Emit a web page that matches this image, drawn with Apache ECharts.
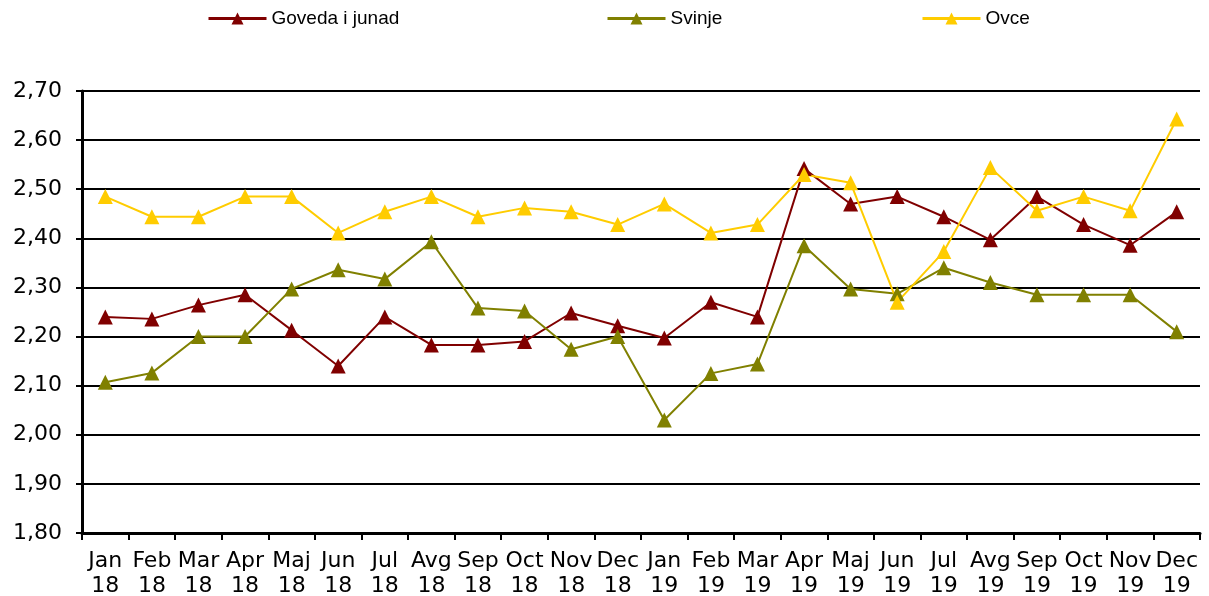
<!DOCTYPE html>
<html><head><meta charset="utf-8">
<script src="https://cdn.jsdelivr.net/npm/echarts@6/dist/echarts.min.js"></script>
<style>html,body{margin:0;padding:0;background:#fff}#c{width:1209px;height:596px}</style>
</head><body><div id="c"></div>
<script>
const categories = ['Jan\n18','Feb\n18','Mar\n18','Apr\n18','Maj\n18','Jun\n18','Jul\n18','Avg\n18','Sep\n18','Oct\n18','Nov\n18','Dec\n18',
  'Jan\n19','Feb\n19','Mar\n19','Apr\n19','Maj\n19','Jun\n19','Jul\n19','Avg\n19','Sep\n19','Oct\n19','Nov\n19','Dec\n19'];
const goveda = [2.24,2.236,2.264,2.285,2.213,2.14,2.24,2.183,2.183,2.19,2.248,2.222,2.197,2.27,2.24,2.542,2.47,2.485,2.444,2.397,2.485,2.428,2.386,2.454];
const svinje = [2.107,2.126,2.20,2.20,2.297,2.336,2.317,2.393,2.258,2.252,2.174,2.20,2.03,2.125,2.144,2.385,2.297,2.287,2.34,2.31,2.285,2.285,2.285,2.21];
const ovce = [2.485,2.444,2.444,2.485,2.485,2.411,2.454,2.485,2.444,2.462,2.454,2.428,2.47,2.411,2.428,2.53,2.513,2.27,2.373,2.544,2.456,2.485,2.456,2.643];
const names = ['Goveda i junad','Svinje','Ovce'];
const colors = ['#800000','#808000','#FFCC00'];

const chart = echarts.init(document.getElementById('c'));
const legendBase = {top: 4, itemWidth: 58, itemHeight: 15, itemGap: 0,
  lineStyle:{width:3},
  textStyle: {fontFamily: 'Liberation Sans', fontSize: 19, color: '#000'}};
function mkSeries(name, data, color){
  return {name, type:'line', data, symbol:'triangle', symbolSize:15, color,
    lineStyle:{width:2, color}, itemStyle:{color}, animation:false};
}
chart.setOption({
  animation:false,
  legend:[
    Object.assign({data:[names[0]], left:202}, legendBase),
    Object.assign({data:[names[1]], left:601}, legendBase),
    Object.assign({data:[names[2]], left:916}, legendBase)
  ],
  grid:{left:82, right:9, top:91, bottom:63, containLabel:false, outerBoundsMode:'none'},
  xAxis:{type:'category', data:categories, boundaryGap:true,
    axisLine:{lineStyle:{color:'#000', width:3}},
    axisTick:{show:true, length:7, lineStyle:{color:'#000', width:2}},
    axisLabel:{interval:0, margin:16, color:'#000', fontFamily:'DejaVu Sans', fontSize:22, lineHeight:25}
  },
  yAxis:{type:'value', min:1.8, max:2.7, interval:0.1,
    axisLine:{show:true, lineStyle:{color:'#000', width:3}},
    axisTick:{show:true, length:6, lineStyle:{color:'#000', width:2}},
    splitLine:{lineStyle:{color:'#000', width:2}},
    axisLabel:{margin:20, color:'#000', fontFamily:'DejaVu Sans', fontSize:22,
      formatter:v=>v.toFixed(2).replace('.',',')}
  },
  series:[mkSeries(names[0],goveda,colors[0]), mkSeries(names[1],svinje,colors[1]), mkSeries(names[2],ovce,colors[2])]
});
</script></body></html>
